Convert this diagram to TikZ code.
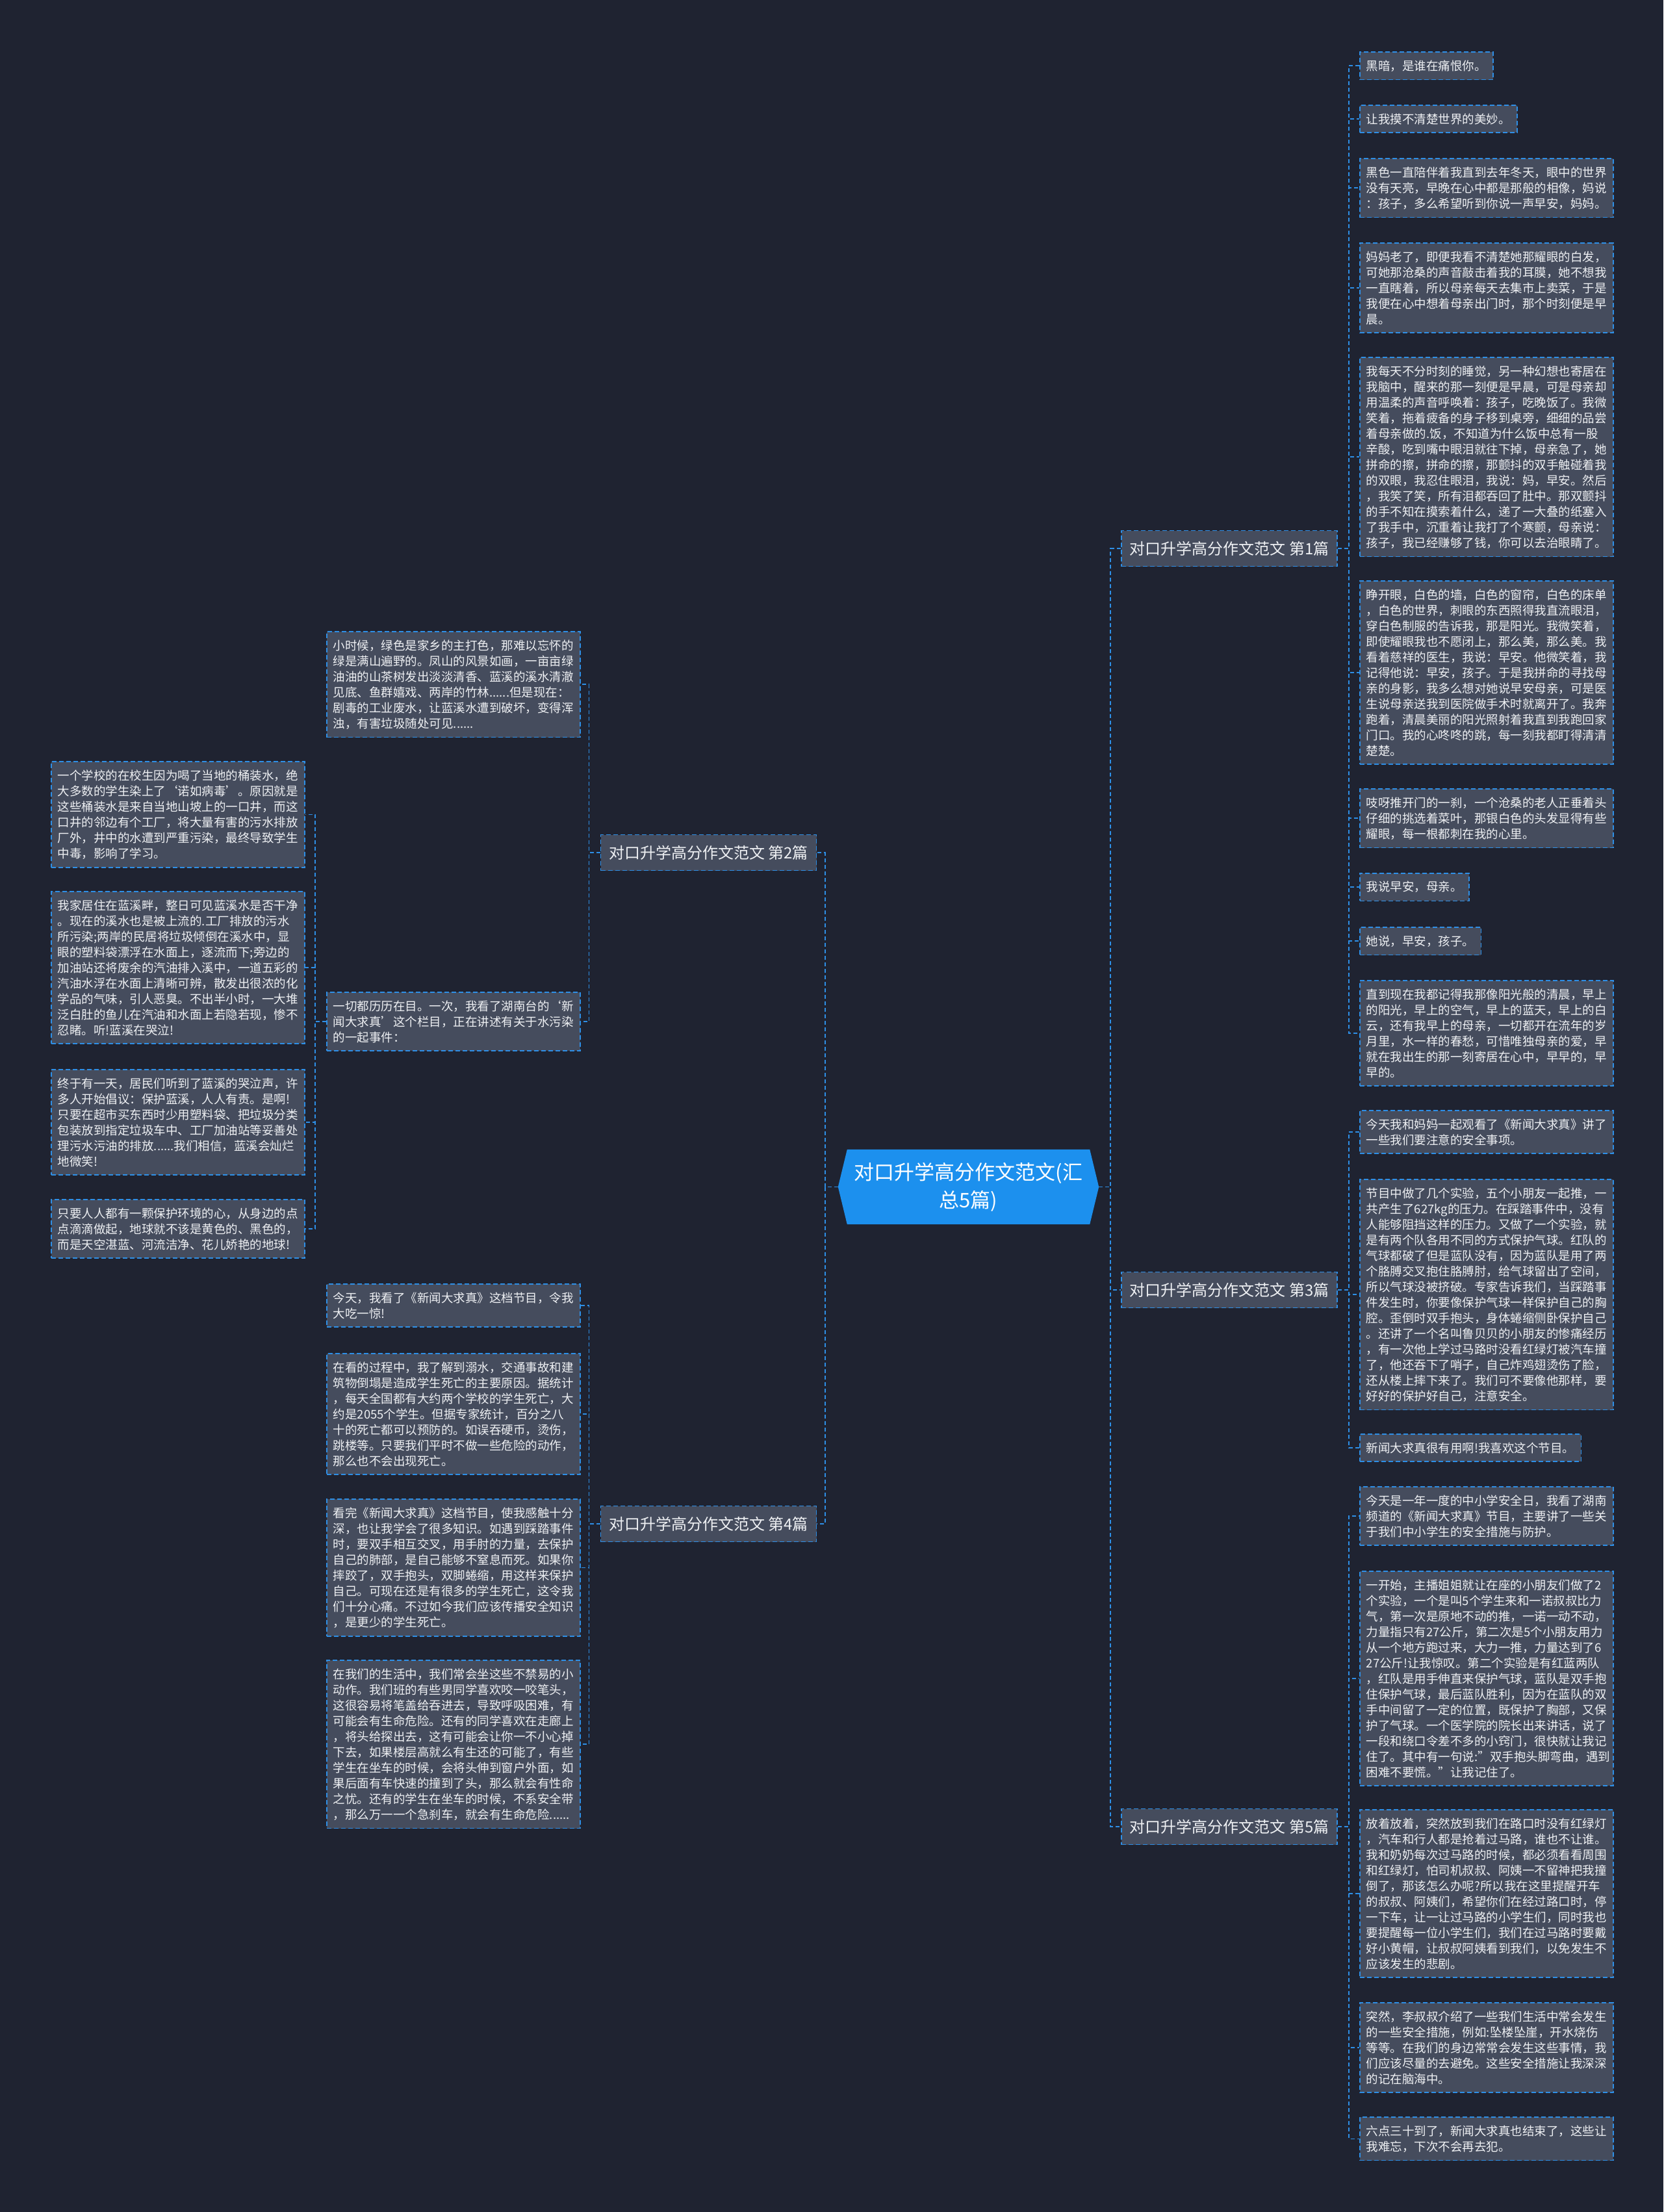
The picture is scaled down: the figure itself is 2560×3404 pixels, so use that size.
\documentclass[tikz,border=0pt]{standalone}
\usepackage{fontspec}
\setmainfont{Noto Sans CJK SC}
\usetikzlibrary{positioning,calc,backgrounds}
\definecolor{pagebg}{HTML}{1F2331}
\definecolor{cardfill}{HTML}{454C5D}
\definecolor{edgeblue}{HTML}{2E8FE6}
\definecolor{rootblue}{HTML}{1C90EE}
\definecolor{inktext}{HTML}{EEF0F3}

\begin{document}
\begin{tikzpicture}[
  x=1pt, y=-1pt,
  card/.style={draw=edgeblue, dash pattern=on 7pt off 4pt, line width=1.8pt,
               fill=cardfill, text=inktext, align=left, inner xsep=10pt,
               inner ysep=12.5pt, anchor=north west, font=\fontsize{18.5}{24}\selectfont},
  para/.style={card, text width=370pt},
  topic/.style={draw=edgeblue, dash pattern=on 7pt off 4pt, line width=1.8pt,
                fill=cardfill, text=inktext, font=\fontsize{24}{28}\selectfont,
                minimum width=332pt, minimum height=55pt, inner sep=0pt},
  root/.style={text=white, align=center, font=\fontsize{31}{43}\selectfont,
               minimum width=401pt, minimum height=115pt, inner sep=0pt},
  link/.style={draw=edgeblue, dash pattern=on 6pt off 4pt, line width=1.5pt},
]
\useasboundingbox (0,0) rectangle (2560,3404);

\node[root] (essay) at (1490.5,1826.5) {对口升学高分作文范文(汇\\总5篇)};

\node[topic] (part1) at (1892,844) {对口升学高分作文范文 第1篇};
\node[topic] (part2) at (1090.5,1312) {对口升学高分作文范文 第2篇};
\node[topic] (part3) at (1892,1985) {对口升学高分作文范文 第3篇};
\node[topic] (part4) at (1090.5,2345) {对口升学高分作文范文 第4篇};
\node[topic] (part5) at (1892,2811) {对口升学高分作文范文 第5篇};

\node[card] (p1a) at (2092,79) {黑暗，是谁在痛恨你。};
\node[card] (p1b) at (2092,161) {让我摸不清楚世界的美妙。};
\node[para] (p1c) at (2092,243) {黑色一直陪伴着我直到去年冬天，眼中的世界\\没有天亮，早晚在心中都是那般的相像，妈说\\：孩子，多么希望听到你说一声早安，妈妈。};
\node[para] (p1d) at (2092,373) {妈妈老了，即便我看不清楚她那耀眼的白发，\\可她那沧桑的声音敲击着我的耳膜，她不想我\\一直瞎着，所以母亲每天去集市上卖菜，于是\\我便在心中想着母亲出门时，那个时刻便是早\\晨。};
\node[para] (p1e) at (2092,549) {我每天不分时刻的睡觉，另一种幻想也寄居在\\我脑中，醒来的那一刻便是早晨，可是母亲却\\用温柔的声音呼唤着：孩子，吃晚饭了。我微\\笑着，拖着疲备的身子移到桌旁，细细的品尝\\着母亲做的.饭，不知道为什么饭中总有一股\\辛酸，吃到嘴中眼泪就往下掉，母亲急了，她\\拼命的擦，拼命的擦，那颤抖的双手触碰着我\\的双眼，我忍住眼泪，我说：妈，早安。然后\\，我笑了笑，所有泪都吞回了肚中。那双颤抖\\的手不知在摸索着什么，递了一大叠的纸塞入\\了我手中，沉重着让我打了个寒颤，母亲说：\\孩子，我已经赚够了钱，你可以去治眼睛了。};
\node[para] (p1f) at (2092,893) {睁开眼，白色的墙，白色的窗帘，白色的床单\\，白色的世界，刺眼的东西照得我直流眼泪，\\穿白色制服的告诉我，那是阳光。我微笑着，\\即使耀眼我也不愿闭上，那么美，那么美。我\\看着慈祥的医生，我说：早安。他微笑着，我\\记得他说：早安，孩子。于是我拼命的寻找母\\亲的身影，我多么想对她说早安母亲，可是医\\生说母亲送我到医院做手术时就离开了。我奔\\跑着，清晨美丽的阳光照射着我直到我跑回家\\门口。我的心咚咚的跳，每一刻我都盯得清清\\楚楚。};
\node[para] (p1g) at (2092,1213) {吱呀推开门的一刹，一个沧桑的老人正垂着头\\仔细的挑选着菜叶，那银白色的头发显得有些\\耀眼，每一根都刺在我的心里。};
\node[card] (p1h) at (2092,1343) {我说早安，母亲。};
\node[card] (p1i) at (2092,1426) {她说，早安，孩子。};
\node[para] (p1j) at (2092,1508) {直到现在我都记得我那像阳光般的清晨，早上\\的阳光，早上的空气，早上的蓝天，早上的白\\云，还有我早上的母亲，一切都开在流年的岁\\月里，水一样的春愁，可惜唯独母亲的爱，早\\就在我出生的那一刻寄居在心中，早早的，早\\早的。};

\node[para] (p2a) at (502,971) {小时候，绿色是家乡的主打色，那难以忘怀的\\绿是满山遍野的。凤山的风景如画，一亩亩绿\\油油的山茶树发出淡淡清香、蓝溪的溪水清澈\\见底、鱼群嬉戏、两岸的竹林......但是现在：\\剧毒的工业废水，让蓝溪水遭到破坏，变得浑\\浊，有害垃圾随处可见......};
\node[para] (p2b) at (502,1526) {一切都历历在目。一次，我看了湖南台的‘新\\闻大求真’这个栏目，正在讲述有关于水污染\\的一起事件：};
\node[para] (p2c) at (78,1171) {一个学校的在校生因为喝了当地的桶装水，绝\\大多数的学生染上了‘诺如病毒’。原因就是\\这些桶装水是来自当地山坡上的一口井，而这\\口井的邻边有个工厂，将大量有害的污水排放\\厂外，井中的水遭到严重污染，最终导致学生\\中毒，影响了学习。};
\node[para] (p2d) at (78,1371) {我家居住在蓝溪畔，整日可见蓝溪水是否干净\\。现在的溪水也是被上流的.工厂排放的污水\\所污染;两岸的民居将垃圾倾倒在溪水中，显\\眼的塑料袋漂浮在水面上，逐流而下;旁边的\\加油站还将废余的汽油排入溪中，一道五彩的\\汽油水浮在水面上清晰可辨，散发出很浓的化\\学品的气味，引人恶臭。不出半小时，一大堆\\泛白肚的鱼儿在汽油和水面上若隐若现，惨不\\忍睹。听!蓝溪在哭泣!};
\node[para] (p2e) at (78,1645) {终于有一天，居民们听到了蓝溪的哭泣声，许\\多人开始倡议：保护蓝溪，人人有责。是啊!\\只要在超市买东西时少用塑料袋、把垃圾分类\\包装放到指定垃圾车中、工厂加油站等妥善处\\理污水污油的排放......我们相信，蓝溪会灿烂\\地微笑!};
\node[para] (p2f) at (78,1845) {只要人人都有一颗保护环境的心，从身边的点\\点滴滴做起，地球就不该是黄色的、黑色的，\\而是天空湛蓝、河流洁净、花儿娇艳的地球!};

\node[para] (p3a) at (2092,1708) {今天我和妈妈一起观看了《新闻大求真》讲了\\一些我们要注意的安全事项。};
\node[para] (p3b) at (2092,1814) {节目中做了几个实验，五个小朋友一起推，一\\共产生了627kg的压力。在踩踏事件中，没有\\人能够阻挡这样的压力。又做了一个实验，就\\是有两个队各用不同的方式保护气球。红队的\\气球都破了但是蓝队没有，因为蓝队是用了两\\个胳膊交叉抱住胳膊肘，给气球留出了空间，\\所以气球没被挤破。专家告诉我们，当踩踏事\\件发生时，你要像保护气球一样保护自己的胸\\腔。歪倒时双手抱头，身体蜷缩侧卧保护自己\\。还讲了一个名叫鲁贝贝的小朋友的惨痛经历\\，有一次他上学过马路时没看红绿灯被汽车撞\\了，他还吞下了哨子，自己炸鸡翅烫伤了脸，\\还从楼上摔下来了。我们可不要像他那样，要\\好好的保护好自己，注意安全。};
\node[card] (p3c) at (2092,2206) {新闻大求真很有用啊!我喜欢这个节目。};

\node[para] (p4a) at (502,1975) {今天，我看了《新闻大求真》这档节目，令我\\大吃一惊!};
\node[para] (p4b) at (502,2082) {在看的过程中，我了解到溺水，交通事故和建\\筑物倒塌是造成学生死亡的主要原因。据统计\\，每天全国都有大约两个学校的学生死亡，大\\约是2055个学生。但据专家统计，百分之八\\十的死亡都可以预防的。如误吞硬币，烫伤，\\跳楼等。只要我们平时不做一些危险的动作，\\那么也不会出现死亡。};
\node[para] (p4c) at (502,2306) {看完《新闻大求真》这档节目，使我感触十分\\深，也让我学会了很多知识。如遇到踩踏事件\\时，要双手相互交叉，用手肘的力量，去保护\\自己的肺部，是自己能够不窒息而死。如果你\\摔跤了，双手抱头，双脚蜷缩，用这样来保护\\自己。可现在还是有很多的学生死亡，这令我\\们十分心痛。不过如今我们应该传播安全知识\\，是更少的学生死亡。};
\node[para] (p4d) at (502,2554) {在我们的生活中，我们常会坐这些不禁易的小\\动作。我们班的有些男同学喜欢咬一咬笔头，\\这很容易将笔盖给吞进去，导致呼吸困难，有\\可能会有生命危险。还有的同学喜欢在走廊上\\，将头给探出去，这有可能会让你一不小心掉\\下去，如果楼层高就么有生还的可能了，有些\\学生在坐车的时候，会将头伸到窗户外面，如\\果后面有车快速的撞到了头，那么就会有性命\\之忧。还有的学生在坐车的时候，不系安全带\\，那么万一一个急刹车，就会有生命危险......};

\node[para] (p5a) at (2092,2287) {今天是一年一度的中小学安全日，我看了湖南\\频道的《新闻大求真》节目，主要讲了一些关\\于我们中小学生的安全措施与防护。};
\node[para] (p5b) at (2092,2417) {一开始，主播姐姐就让在座的小朋友们做了2\\个实验，一个是叫5个学生来和一诺叔叔比力\\气，第一次是原地不动的推，一诺一动不动，\\力量指只有27公斤，第二次是5个小朋友用力\\从一个地方跑过来，大力一推，力量达到了6\\27公斤!让我惊叹。第二个实验是有红蓝两队\\，红队是用手伸直来保护气球，蓝队是双手抱\\住保护气球，最后蓝队胜利，因为在蓝队的双\\手中间留了一定的位置，既保护了胸部，又保\\护了气球。一个医学院的院长出来讲话，说了\\一段和绕口令差不多的小窍门，很快就让我记\\住了。其中有一句说:"双手抱头脚弯曲，遇到\\困难不要慌。"让我记住了。};
\node[para] (p5c) at (2092,2784) {放着放着，突然放到我们在路口时没有红绿灯\\，汽车和行人都是抢着过马路，谁也不让谁。\\我和奶奶每次过马路的时候，都必须看看周围\\和红绿灯，怕司机叔叔、阿姨一不留神把我撞\\倒了，那该怎么办呢?所以我在这里提醒开车\\的叔叔、阿姨们，希望你们在经过路口时，停\\一下车，让一让过马路的小学生们，同时我也\\要提醒每一位小学生们，我们在过马路时要戴\\好小黄帽，让叔叔阿姨看到我们，以免发生不\\应该发生的悲剧。};
\node[para] (p5d) at (2092,3081) {突然，李叔叔介绍了一些我们生活中常会发生\\的一些安全措施，例如:坠楼坠崖，开水烧伤\\等等。在我们的身边常常会发生这些事情，我\\们应该尽量的去避免。这些安全措施让我深深\\的记在脑海中。};
\node[para] (p5e) at (2092,3257) {六点三十到了，新闻大求真也结束了，这些让\\我难忘，下次不会再去犯。};

\draw[link] (essay.east) -- ++(18,0) |- (part1.west);
\draw[link] (essay.east) -- ++(18,0) |- (part3.west);
\draw[link] (essay.east) -- ++(18,0) |- (part5.west);
\draw[link] (essay.west) -- ++(-20,0) |- (part2.east);
\draw[link] (essay.west) -- ++(-20,0) |- (part4.east);

\draw[link] (part1.east) -- ++(17,0) |- (p1a.west);
\draw[link] (part1.east) -- ++(17,0) |- (p1b.west);
\draw[link] (part1.east) -- ++(17,0) |- (p1c.west);
\draw[link] (part1.east) -- ++(17,0) |- (p1d.west);
\draw[link] (part1.east) -- ++(17,0) |- (p1e.west);
\draw[link] (part1.east) -- ++(17,0) |- (p1f.west);
\draw[link] (part1.east) -- ++(17,0) |- (p1g.west);
\draw[link] (part1.east) -- ++(17,0) |- (p1h.west);
\draw[link] (part1.east) -- ++(17,0) |- (p1i.west);
\draw[link] (part1.east) -- ++(17,0) |- (p1j.west);

\draw[link] (part2.west) -- ++(-17,0) |- (p2a.east);
\draw[link] (part2.west) -- ++(-17,0) |- (p2b.east);
\draw[link] (p2b.west) -- ++(-17,0) |- (p2c.east);
\draw[link] (p2b.west) -- ++(-17,0) |- (p2d.east);
\draw[link] (p2b.west) -- ++(-17,0) |- (p2e.east);
\draw[link] (p2b.west) -- ++(-17,0) |- (p2f.east);

\draw[link] (part3.east) -- ++(17,0) |- (p3a.west);
\draw[link] (part3.east) -- ++(17,0) |- (p3b.west);
\draw[link] (part3.east) -- ++(17,0) |- (p3c.west);

\draw[link] (part4.west) -- ++(-17,0) |- (p4a.east);
\draw[link] (part4.west) -- ++(-17,0) |- (p4b.east);
\draw[link] (part4.west) -- ++(-17,0) |- (p4c.east);
\draw[link] (part4.west) -- ++(-17,0) |- (p4d.east);

\draw[link] (part5.east) -- ++(17,0) |- (p5a.west);
\draw[link] (part5.east) -- ++(17,0) |- (p5b.west);
\draw[link] (part5.east) -- ++(17,0) |- (p5c.west);
\draw[link] (part5.east) -- ++(17,0) |- (p5d.west);
\draw[link] (part5.east) -- ++(17,0) |- (p5e.west);

\begin{scope}[on background layer]
\fill[pagebg] (0,0) rectangle (2560,3404);
\fill[rootblue] ([xshift=14pt]essay.north west) -- ([xshift=-14pt]essay.north east) -- (essay.east)
  -- ([xshift=-14pt]essay.south east) -- ([xshift=14pt]essay.south west) -- (essay.west) -- cycle;
\end{scope}
\end{tikzpicture}
\end{document}
